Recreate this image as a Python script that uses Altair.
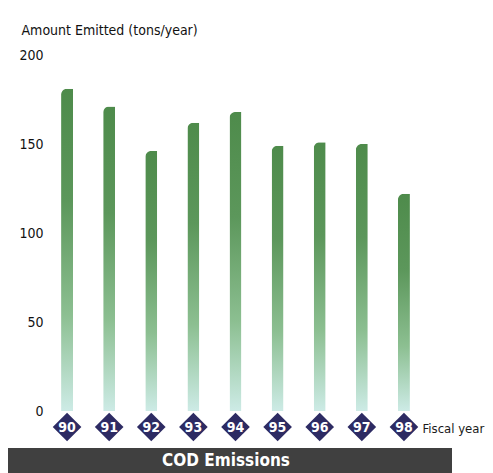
import altair as alt
import pandas as pd

years = ["90", "91", "92", "93", "94", "95", "96", "97", "98"]
emissions = [181, 171, 146, 162, 168, 149, 151, 150, 122]

df = pd.DataFrame({"year": years, "value": emissions})

FONT = "DejaVu Sans Condensed, Liberation Sans Narrow, sans-serif"
W, H = 379, 356

x = alt.X("year:O", scale=alt.Scale(paddingInner=0, paddingOuter=0),
          axis=alt.Axis(labels=False, ticks=False, domain=False, title="Fiscal year",
                        titleFont=FONT, titleFontSize=13, titleFontWeight="normal",
                        titleColor="#1a1a1a", titleAlign="left", titleBaseline="middle",
                        titleX=W - 3, titleY=17))

bars = alt.Chart(df).mark_bar(
    size=12,
    cornerRadiusTopLeft=12,
    color=alt.Gradient(
        gradient="linear", x1=0, x2=0, y1=0, y2=1,
        stops=[alt.GradientStop(color="#4e8b4b", offset=0),
               alt.GradientStop(color="#5c975b", offset=0.35),
               alt.GradientStop(color="#8cbf91", offset=0.7),
               alt.GradientStop(color="#cdebe6", offset=1)],
    ),
).encode(
    x=x,
    y=alt.Y("value:Q", scale=alt.Scale(domain=[0, 200]),
            axis=alt.Axis(values=[0, 50, 100, 150, 200], grid=False, ticks=False,
                          domain=False, labelFont=FONT, labelFontSize=14,
                          labelColor="#111111", labelPadding=3,
                          title="Amount Emitted (tons/year)", titleFont=FONT,
                          titleFontSize=14, titleFontWeight="normal", titleColor="#111111",
                          titleAngle=0, titleAlign="left", titleBaseline="middle",
                          titleX=-25, titleY=-25)),
)

diamonds = alt.Chart(df).mark_point(
    shape="diamond", filled=True, color="#2d2b63", opacity=1, size=820
).encode(x="year:O", y=alt.value(H + 16))

labels = alt.Chart(df).mark_text(
    font=FONT, fontSize=14, fontWeight="bold", color="white", baseline="middle", dy=1
).encode(x="year:O", y=alt.value(H + 16), text="year:N")

band = alt.Chart(df).mark_rect(color="#404040").encode(
    x=alt.value(-38), x2=alt.value(406), y=alt.value(H + 37), y2=alt.value(H + 62)
)
band_text = alt.Chart(pd.DataFrame({"t": ["COD Emissions"]})).mark_text(
    font=FONT, fontSize=17, fontWeight="bold", color="white", baseline="middle"
).encode(x=alt.value(180), y=alt.value(H + 50), text="t:N")

chart = alt.layer(bars, diamonds, labels, band, band_text).properties(
    width=W, height=H,
    background="white",
    autosize=alt.AutoSizeParams(type="none"),
    padding={"left": 38, "top": 47, "right": 60, "bottom": 62},
).configure_view(strokeWidth=0, stroke=None)

chart.save("out.html", embed_options={"renderer": "svg", "actions": False})
